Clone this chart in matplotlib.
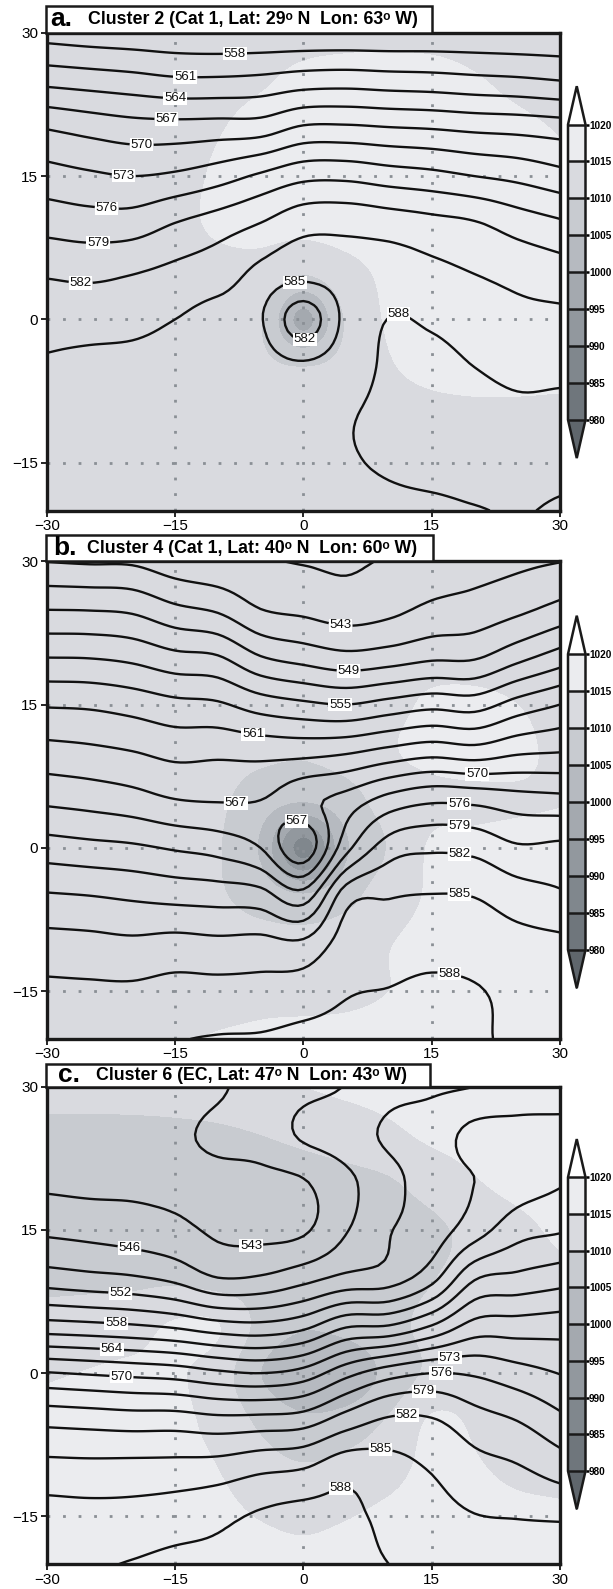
import numpy as np
import matplotlib
matplotlib.use("Agg")
import matplotlib.pyplot as plt
from matplotlib.colors import ListedColormap, BoundaryNorm
from matplotlib.patches import Rectangle

plt.rcParams['font.family'] = ['Liberation Sans', 'DejaVu Sans']

# ---------------- data ----------------
lon = [-30, -25, -20, -15, -10, -5, 0, 5, 10, 15, 20, 25, 30]
lat = [30, 25, 20, 15, 10, 5, 0, -5, -10, -15, -20]   # rows, north -> south

slp_bounds = [980, 985, 990, 995, 1000, 1005, 1010, 1015, 1020]
z_levels = list(range(531, 600, 3))

# Panel a : 500 hPa height (dam), rows = lat, cols = lon
z_a = [
    [556.6, 556.1, 555.8, 555.5, 555.3, 555.3, 555.3, 555.3, 555.3, 555.4, 555.4, 555.3, 555.3],
    [563.1, 562.6, 562.1, 561.5, 561.5, 561.8, 562.5, 562.7, 562.4, 562.2, 561.8, 561.5, 561.0],
    [569.9, 569.0, 568.3, 568.2, 568.4, 568.6, 570.5, 570.6, 570.2, 569.9, 569.4, 569.1, 568.6],
    [574.2, 573.5, 573.0, 573.5, 574.7, 576.5, 578.2, 578.3, 577.5, 576.9, 576.0, 575.2, 574.0],
    [577.9, 577.4, 577.5, 579.1, 580.5, 582.1, 584.0, 584.2, 583.7, 583.0, 582.3, 580.7, 579.5],
    [581.6, 581.3, 581.8, 582.7, 583.7, 585.5, 585.9, 586.0, 586.4, 585.7, 584.9, 584.1, 583.3],
    [583.8, 583.8, 584.1, 585.0, 585.9, 585.2, 580.3, 585.8, 588.05, 587.6, 586.6, 585.8, 585.7],
    [585.4, 585.8, 585.9, 586.2, 586.4, 586.2, 585.6, 586.8, 588.4, 588.8, 588.0, 587.4, 587.5],
    [586.2, 586.3, 586.3, 586.8, 586.9, 587.0, 587.0, 587.8, 588.5, 589.2, 588.8, 588.4, 588.4],
    [586.8, 586.9, 586.9, 587.2, 587.2, 587.4, 587.5, 587.85, 588.2, 588.6, 588.7, 588.5, 588.4],
    [587.3, 587.3, 587.3, 587.5, 587.5, 587.7, 587.8, 587.5, 587.6, 587.6, 587.9, 588.1, 587.8],
]
# Panel a : sea level pressure (hPa)
p_a = [
    [1012.0, 1012.2, 1012.4, 1012.6, 1012.8, 1013.2, 1013.6, 1013.8, 1013.8, 1013.6, 1013.2, 1012.8, 1012.4],
    [1012.3, 1012.5, 1012.8, 1013.2, 1013.8, 1014.6, 1015.8, 1016.3, 1016.5, 1016.3, 1015.3, 1014.2, 1013.4],
    [1012.4, 1012.7, 1013.2, 1014.0, 1014.8, 1016.0, 1016.6, 1016.8, 1016.8, 1016.6, 1016.2, 1015.6, 1014.8],
    [1012.4, 1012.8, 1013.3, 1014.2, 1015.3, 1016.3, 1016.8, 1017.0, 1017.0, 1016.8, 1016.5, 1016.0, 1015.5],
    [1012.4, 1012.8, 1013.3, 1014.2, 1015.4, 1016.0, 1016.2, 1016.6, 1017.0, 1017.0, 1016.8, 1016.4, 1016.0],
    [1012.3, 1012.6, 1013.0, 1013.5, 1014.0, 1013.6, 1010.6, 1013.6, 1015.8, 1016.8, 1016.8, 1016.5, 1016.2],
    [1012.2, 1012.4, 1012.7, 1013.0, 1012.8, 1010.3, 998.5, 1010.5, 1015.5, 1016.6, 1016.6, 1016.4, 1016.0],
    [1012.0, 1012.2, 1012.4, 1012.6, 1012.4, 1011.0, 1010.0, 1011.5, 1014.6, 1016.0, 1016.2, 1016.0, 1015.8],
    [1011.8, 1012.0, 1012.2, 1012.3, 1012.4, 1012.5, 1012.6, 1012.8, 1013.2, 1013.8, 1014.2, 1014.3, 1014.2],
    [1011.6, 1011.8, 1012.0, 1012.1, 1012.2, 1012.3, 1012.4, 1012.5, 1012.7, 1012.9, 1013.0, 1013.0, 1012.9],
    [1011.4, 1011.6, 1011.8, 1011.9, 1012.0, 1012.1, 1012.2, 1012.3, 1012.4, 1012.5, 1012.5, 1012.5, 1012.4],
]
labels_a = [(558, -8.0, 27.6), (561, -13.8, 25.4), (564, -15.0, 23.2), (567, -16.0, 21.0),
            (570, -18.9, 18.3), (573, -21.0, 15.0), (576, -23.0, 11.4), (579, -24.0, 8.5),
            (582, -26.0, 4.4), (585, -1.0, 4.0), (582, 0.1, -1.8), (588, 11.1, 0.7)]

# Panel b : height, given column by column (lon), each from lat 30 to -20
z_b_cols = [
    [542.9, 548.9, 554.9, 560.7, 565.1, 569.4, 574.4, 579.3, 583.1, 585.6, 586.3],
    [542.6, 548.8, 554.8, 560.5, 564.7, 568.9, 573.9, 579.0, 582.9, 585.5, 586.4],
    [542.5, 548.4, 554.2, 559.8, 564.1, 568.2, 573.5, 578.5, 582.6, 585.5, 586.8],
    [541.0, 546.6, 552.8, 558.8, 563.2, 567.1, 572.7, 578.0, 583.0, 586.0, 587.8],
    [540.3, 545.5, 552.2, 558.4, 563.4, 566.8, 571.9, 577.7, 582.7, 586.0, 588.2],
    [540.2, 543.0, 549.1, 556.6, 563.1, 567.0, 570.0, 577.2, 582.9, 586.1, 588.3],
    [539.8, 542.3, 547.8, 555.6, 563.1, 569.0, 565.0, 574.3, 582.6, 586.5, 588.8],
    [539.5, 541.5, 546.8, 555.0, 563.7, 571.2, 575.0, 583.7, 586.3, 587.8, 588.8],
    [540.3, 542.2, 547.4, 556.1, 565.0, 574.1, 580.5, 584.8, 586.6, 588.1, 589.0],
    [541.0, 543.6, 548.4, 557.1, 566.0, 575.5, 581.5, 585.1, 586.8, 588.6, 588.9],
    [541.7, 544.2, 548.6, 556.7, 565.4, 575.2, 581.1, 584.9, 586.7, 588.2, 588.4],
    [542.3, 545.3, 551.0, 559.2, 566.6, 574.3, 579.4, 583.4, 586.0, 587.3, 587.5],
    [542.9, 546.9, 553.3, 561.0, 567.0, 573.9, 579.7, 582.4, 585.6, 586.6, 587.3],
]
z_b = [list(r) for r in zip(*z_b_cols)]
p_b = [
    [1012.0, 1012.0, 1012.0, 1012.0, 1012.0, 1012.0, 1012.0, 1012.0, 1012.0, 1012.0, 1012.0, 1011.5, 1010.5],
    [1012.5, 1012.5, 1012.5, 1012.5, 1012.5, 1012.5, 1012.5, 1012.5, 1012.5, 1012.5, 1012.5, 1012.3, 1012.0],
    [1012.5, 1012.5, 1012.5, 1012.5, 1012.5, 1012.5, 1012.6, 1012.8, 1013.5, 1013.8, 1013.5, 1013.0, 1012.8],
    [1012.5, 1012.5, 1012.5, 1012.5, 1012.5, 1012.5, 1012.5, 1013.0, 1014.0, 1015.5, 1015.8, 1015.0, 1013.5],
    [1012.5, 1012.5, 1012.5, 1012.3, 1012.0, 1011.0, 1010.5, 1011.8, 1014.5, 1016.0, 1016.3, 1015.8, 1014.0],
    [1012.5, 1012.5, 1012.3, 1011.8, 1010.8, 1007.5, 1005.5, 1008.0, 1012.0, 1013.8, 1014.3, 1014.6, 1014.8],
    [1012.5, 1012.5, 1012.3, 1011.5, 1010.3, 1004.2, 988.0, 1004.2, 1010.3, 1015.5, 1015.8, 1016.0, 1016.0],
    [1012.5, 1012.5, 1012.3, 1012.0, 1010.5, 1008.0, 1005.5, 1008.5, 1012.5, 1015.5, 1016.0, 1016.0, 1016.0],
    [1012.5, 1012.5, 1012.5, 1012.5, 1012.3, 1011.8, 1011.5, 1012.5, 1014.8, 1016.0, 1016.0, 1016.0, 1016.0],
    [1012.5, 1012.5, 1012.5, 1012.8, 1013.5, 1014.0, 1014.0, 1014.3, 1015.0, 1015.8, 1016.0, 1016.0, 1016.0],
    [1012.8, 1013.0, 1013.5, 1014.5, 1015.3, 1015.6, 1015.8, 1015.8, 1016.0, 1016.0, 1016.0, 1016.0, 1016.0],
]
labels_b = [(543, 4.3, 23.0), (549, 5.3, 18.3), (555, 4.3, 15.1), (561, -5.9, 11.7),
            (567, -7.9, 4.6), (567, -0.8, 3.0), (570, 20.3, 8.5), (576, 18.2, 4.5),
            (579, 18.2, 2.1), (582, 18.2, -0.9), (585, 18.2, -5.2), (588, 17.1, -13.0)]

# Panel c : height, column by column (lon), each from lat 30 to -20
z_c_cols = [
    [541.0, 541.8, 542.5, 545.4, 550.4, 559.1, 570.2, 578.2, 583.0, 586.2, 587.3],
    [541.3, 541.8, 542.3, 545.0, 549.8, 558.7, 569.7, 577.9, 582.9, 586.0, 587.6],
    [541.5, 542.0, 542.4, 544.5, 549.3, 558.2, 569.2, 577.6, 583.0, 586.1, 588.2],
    [541.8, 542.5, 542.3, 543.8, 548.2, 557.4, 568.7, 577.6, 583.1, 586.6, 588.8],
    [542.5, 543.6, 542.2, 542.5, 546.0, 556.1, 567.6, 577.0, 583.4, 587.3, 588.8],
    [544.6, 544.3, 542.3, 542.2, 546.3, 555.7, 567.0, 577.2, 584.4, 588.4, 589.2],
    [545.3, 546.4, 542.8, 542.6, 547.9, 557.0, 568.2, 577.7, 585.0, 589.0, 589.5],
    [546.1, 547.5, 545.3, 545.8, 549.7, 560.5, 572.0, 580.5, 586.9, 588.6, 588.5],
    [548.0, 549.5, 548.0, 548.8, 550.5, 561.0, 574.7, 582.5, 586.0, 587.3, 588.0],
    [548.5, 550.5, 550.5, 550.5, 553.9, 564.0, 576.0, 582.3, 584.8, 586.0, 586.8],
    [549.0, 552.8, 552.0, 553.6, 560.6, 568.0, 575.6, 580.3, 583.1, 585.1, 586.2],
    [550.5, 552.8, 553.5, 556.8, 561.7, 568.3, 574.2, 579.0, 582.3, 584.9, 586.2],
    [550.5, 553.0, 554.7, 557.7, 562.7, 568.6, 572.9, 576.8, 580.7, 584.7, 586.5],
]
z_c = [list(r) for r in zip(*z_c_cols)]
p_c = [
    [1012.5, 1012.5, 1012.5, 1012.8, 1013.2, 1014.0, 1015.0, 1016.0, 1016.5, 1016.8, 1016.8, 1016.8, 1016.8],
    [1008.5, 1008.5, 1008.6, 1008.8, 1009.2, 1010.0, 1011.2, 1012.5, 1014.0, 1015.8, 1016.5, 1016.8, 1016.8],
    [1008.2, 1008.0, 1008.0, 1008.0, 1007.8, 1007.5, 1007.8, 1008.5, 1009.5, 1012.0, 1014.6, 1016.2, 1016.8],
    [1008.5, 1008.5, 1008.2, 1008.0, 1007.8, 1007.5, 1007.3, 1007.5, 1008.0, 1009.0, 1011.5, 1013.8, 1015.8],
    [1008.8, 1009.0, 1009.0, 1009.0, 1008.0, 1007.8, 1007.5, 1007.8, 1008.5, 1009.8, 1011.5, 1013.0, 1014.0],
    [1012.0, 1012.3, 1013.0, 1015.5, 1015.2, 1008.5, 1005.5, 1006.5, 1008.8, 1011.0, 1012.5, 1013.0, 1013.5],
    [1014.5, 1015.2, 1015.8, 1015.5, 1012.5, 1005.0, 1000.5, 1001.0, 1006.5, 1011.0, 1013.0, 1013.5, 1014.0],
    [1016.3, 1016.5, 1016.5, 1016.0, 1013.5, 1009.0, 1006.0, 1007.0, 1010.5, 1015.5, 1014.5, 1013.5, 1013.5],
    [1016.3, 1016.5, 1016.5, 1016.3, 1015.0, 1012.0, 1010.5, 1011.5, 1013.5, 1016.0, 1015.3, 1014.3, 1014.0],
    [1016.2, 1016.3, 1016.4, 1016.4, 1016.0, 1014.8, 1014.2, 1014.8, 1015.8, 1016.5, 1016.3, 1015.8, 1015.5],
    [1016.0, 1016.2, 1016.3, 1016.3, 1016.3, 1016.0, 1015.8, 1016.0, 1016.3, 1016.5, 1016.5, 1016.3, 1016.0],
]
labels_c = [(546, -20.3, 13.2), (543, -6.0, 12.4), (552, -21.4, 8.4), (558, -21.9, 5.0),
            (564, -22.4, 2.3), (570, -21.3, -0.9), (573, 17.1, 1.9), (576, 16.1, 0.0),
            (579, 14.1, -2.1), (582, 12.1, -4.5), (585, 9.1, -7.3), (588, 4.1, -11.0)]

titles = [("a.", "Cluster 2 (Cat 1, Lat: 29\u1d52 N  Lon: 63\u1d52 W)"),
          ("b.", "Cluster 4 (Cat 1, Lat: 40\u1d52 N  Lon: 60\u1d52 W)"),
          ("c.", "Cluster 6 (EC, Lat: 47\u1d52 N  Lon: 43\u1d52 W)")]

# ---------------- styling / layout ----------------
W, H = 613, 1589
fill_colors = ['#6f767c', '#80878d', '#92989e', '#a4a9af', '#b6bac0',
               '#c8cbd0', '#d9dadf', '#ebecef']
cmap = ListedColormap(fill_colors)
cmap.set_under('#5f666c')
cmap.set_over('#ffffff')
norm = BoundaryNorm(slp_bounds, cmap.N)


def cr_matrix(n, f):
    m = (n - 1) * f + 1
    M = np.zeros((m, n))
    for k in range(m):
        t = k / f
        i = min(int(np.floor(t)), n - 2)
        u = t - i
        w = [(-u**3 + 2*u**2 - u) / 2, (3*u**3 - 5*u**2 + 2) / 2,
             (-3*u**3 + 4*u**2 + u) / 2, (u**3 - u**2) / 2]
        for j, wj in zip(range(i - 1, i + 3), w):
            if j < 0:
                M[k, 0] += 2 * wj; M[k, 1] -= wj
            elif j > n - 1:
                M[k, n - 1] += 2 * wj; M[k, n - 2] -= wj
            else:
                M[k, j] += wj
    return M


F = 8
def refine(field):
    Z = np.array(field, float)[::-1]
    My = cr_matrix(Z.shape[0], F)
    Mx = cr_matrix(Z.shape[1], F)
    return My @ Z @ Mx.T

xf = np.linspace(lon[0], lon[-1], (len(lon) - 1) * F + 1)
yf = np.linspace(lat[-1], lat[0], (len(lat) - 1) * F + 1)


def frect(l, t, r, b):
    return [l / W, 1 - b / H, (r - l) / W, (b - t) / H]

fig = plt.figure(figsize=(W / 100, H / 100), dpi=100)

panels = [
    dict(z=z_a, p=p_a, lab=labels_a, ax=(46.7, 32.8, 560, 510.5), box=(46, 5.9, 432, 32.8),
         cb=(568, 86.2, 585.5, 458.1), tx=(50, 88)),
    dict(z=z_b, p=p_b, lab=labels_b, ax=(46.7, 561.2, 560, 1039), box=(46, 535.2, 433, 561.2),
         cb=(568, 615.7, 585.5, 988.2), tx=(53, 87)),
    dict(z=z_c, p=p_c, lab=labels_c, ax=(46.7, 1086.6, 560, 1564.2), box=(46, 1063.8, 430, 1086.6),
         cb=(568, 1139.1, 585.5, 1509.2), tx=(58, 96)),
]

for pnl, (tag, ttl) in zip(panels, titles):
    ax = fig.add_axes(frect(*pnl['ax']))
    P = refine(pnl['p'])
    Z = refine(pnl['z'])
    cf = ax.contourf(xf, yf, P, levels=slp_bounds, cmap=cmap, norm=norm, extend='both', zorder=1)
    for v in (-15, 0, 15):
        ax.axvline(v, color='#8a8f95', lw=2.0, ls=(0, (1, 4.6)), dash_capstyle='butt', zorder=2)
        ax.axhline(v, color='#8a8f95', lw=2.0, ls=(0, (1, 4.6)), dash_capstyle='butt', zorder=2)
    texts = []
    for lev in z_levels:
        if Z.min() >= lev or Z.max() <= lev:
            continue
        cs = ax.contour(xf, yf, Z, levels=[lev], colors='#111111', linewidths=1.7, zorder=3)
        pos = [(lx, ly) for (lv, lx, ly) in pnl['lab'] if lv == lev]
        if pos:
            t = cs.clabel(manual=pos, inline=True, inline_spacing=1, fmt='%d', fontsize=9.5)
            texts.extend(t)
    for t in texts:
        t.set_rotation(0)
        t.set_bbox(dict(boxstyle='square,pad=0.05', fc='white', ec='none'))
        t.set_zorder(5)
    ax.set_xlim(-30, 30)
    ax.set_ylim(-20, 30)
    ax.set_xticks([-30, -15, 0, 15, 30])
    ax.set_yticks([-15, 0, 15, 30])
    ax.tick_params(direction='out', length=4, width=1.2, labelsize=11, pad=2)
    for s in ax.spines.values():
        s.set_linewidth(2.4)
        s.set_color('#1a1a1a')
        s.set_zorder(6)

    l, t_, r, b = pnl['box']
    fig.add_artist(Rectangle((l / W, 1 - b / H), (r - l) / W, (b - t_) / H,
                             transform=fig.transFigure, fc='white', ec='#1a1a1a', lw=1.8))
    yc = 1 - (t_ + b) / 2 / H
    fig.text(pnl['tx'][0] / W, yc, tag, fontsize=19, fontweight='bold', va='center', ha='left')
    fig.text(pnl['tx'][1] / W, yc, ttl, fontsize=12.8, fontweight='bold', va='center', ha='left')

    cax = fig.add_axes(frect(*pnl['cb']))
    cb = fig.colorbar(cf, cax=cax, orientation='vertical', extend='both',
                      extendfrac=0.13, drawedges=True, ticks=slp_bounds)
    cb.outline.set_linewidth(1.8)
    cb.outline.set_edgecolor('#1a1a1a')
    cb.dividers.set_linewidth(1.8)
    cb.dividers.set_color('#1a1a1a')
    cax.tick_params(length=2, width=1.8, labelsize=7.2, pad=0.5, right=True, left=False)
    for tl in cax.get_yticklabels():
        tl.set_fontweight('bold')

fig.savefig('out.png', dpi=100, facecolor='white')
